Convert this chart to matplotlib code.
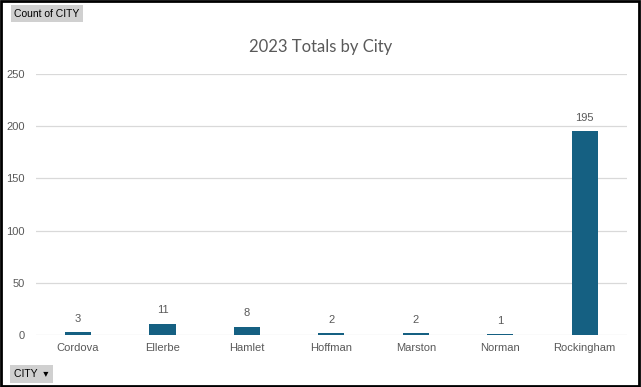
import numpy as np
import matplotlib.pyplot as plt
from matplotlib.patches import Rectangle

cities = ["Cordova", "Ellerbe", "Hamlet", "Hoffman", "Marston", "Norman", "Rockingham"]
counts = [3, 11, 8, 2, 2, 1, 195]
yticks = [0, 50, 100, 150, 200, 250]

bar_color = "#156082"
text_color = "#595959"

plt.rcParams['font.family'] = ['Liberation Sans', 'DejaVu Sans']

fig = plt.figure(figsize=(6.41, 3.87), dpi=100)
ax = fig.add_axes([0.056, 0.134, 0.922, 0.675])

x = np.arange(len(cities))
ax.bar(x, counts, width=0.31, color=bar_color, zorder=3)
for xi, v in zip(x, counts):
    ax.annotate(str(v), (xi, v), xytext=(0, 6), textcoords="offset points",
                ha="center", va="bottom", fontsize=8, color=text_color)

ax.set_xlim(-0.5, len(cities) - 0.5)
ax.set_ylim(0, 250)
ax.set_yticks(yticks)
ax.set_xticks(x)
ax.set_xticklabels(cities)
ax.grid(axis="y", color="#d9d9d9", linewidth=0.9, zorder=0)
for s in ax.spines.values():
    s.set_visible(False)
ax.tick_params(length=0, labelsize=8, labelcolor=text_color)
ax.tick_params(axis="y", pad=8)
ax.tick_params(axis="x", pad=6)

fig.text(0.5, 0.878, "2023 Totals by City", ha="center", va="center",
         fontsize=12, color=text_color, family=['Lato', 'DejaVu Sans'])

# pivot chart field buttons
fig.text(0.022, 0.965, "Count of CITY", ha="left", va="center", fontsize=7.5,
         color="black", bbox=dict(boxstyle="square,pad=0.3", fc="#d0d0d0", ec="none"))
fig.text(0.022, 0.033, "CITY  \u25BE", ha="left", va="center", fontsize=7.5,
         color="black", bbox=dict(boxstyle="square,pad=0.4", fc="#d0d0d0", ec="none"))

# outer border
fig.patches.append(Rectangle((0.002, 0.003), 0.995, 0.994, transform=fig.transFigure,
                             fill=False, edgecolor="black", linewidth=2))

fig.savefig("out.png", dpi=100)
